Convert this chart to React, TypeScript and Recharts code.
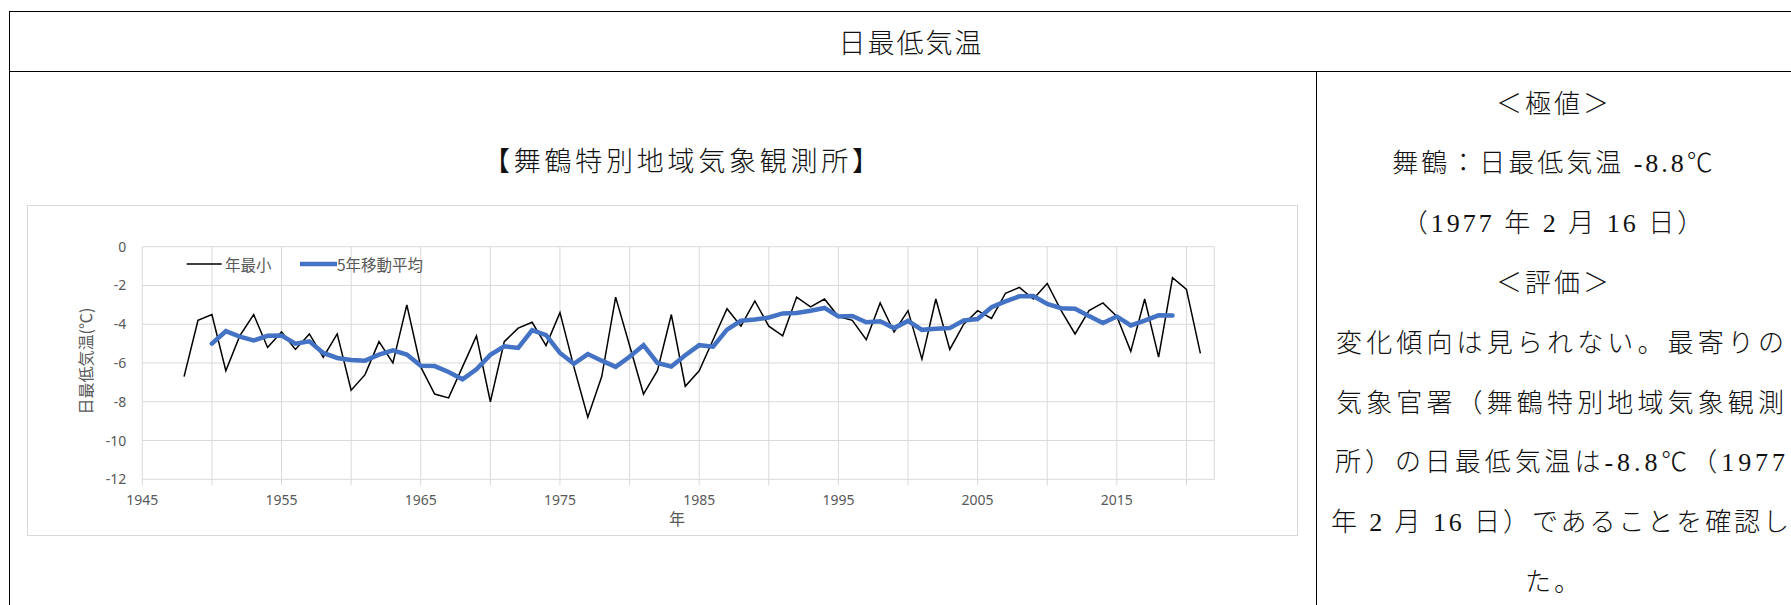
import React from 'react';
import { LineChart, Line, XAxis, YAxis, CartesianGrid } from 'recharts';

const years = [
  1948, 1949, 1950, 1951, 1952, 1953, 1954, 1955, 1956, 1957, 1958, 1959,
  1960, 1961, 1962, 1963, 1964, 1965, 1966, 1967, 1968, 1969,
  1970, 1971, 1972, 1973, 1974, 1975, 1976, 1977, 1978, 1979,
  1980, 1981, 1982, 1983, 1984, 1985, 1986, 1987, 1988, 1989,
  1990, 1991, 1992, 1993, 1994, 1995, 1996, 1997, 1998, 1999,
  2000, 2001, 2002, 2003, 2004, 2005, 2006, 2007, 2008, 2009,
  2010, 2011, 2012, 2013, 2014, 2015, 2016, 2017, 2018, 2019,
  2020, 2021,
];

const annualMin = [
  -6.7, -3.8, -3.5, -6.4, -4.6, -3.5, -5.2, -4.4, -5.3, -4.5, -5.7, -4.5,
  -7.4, -6.6, -4.9, -6.0, -3.0, -6.2, -7.6, -7.8, -6.2, -4.6,
  -8.0, -4.9, -4.2, -3.9, -5.1, -3.4, -6.2, -8.8, -6.7, -2.6,
  -5.1, -7.6, -6.4, -3.5, -7.2, -6.4, -4.8, -3.2, -4.1, -2.8,
  -4.1, -4.6, -2.6, -3.1, -2.7, -3.6, -3.8, -4.8, -2.9, -4.4,
  -3.3, -5.8, -2.7, -5.3, -4.0, -3.3, -3.7, -2.4, -2.1, -2.7,
  -1.9, -3.3, -4.5, -3.3, -2.9, -3.6, -5.4, -2.7, -5.7, -1.6,
  -2.2, -5.5,
];

const movingAvg5 = [
  null, null, -5.0, -4.36, -4.64, -4.84, -4.6, -4.58, -5.0, -4.88, -5.48, -5.74,
  -5.84, -5.88, -5.57, -5.35, -5.56, -6.14, -6.16, -6.46, -6.84, -6.32,
  -5.58, -5.14, -5.22, -4.3, -4.56, -5.48, -6.04, -5.54, -5.88, -6.2,
  -5.68, -5.08, -6.0, -6.18, -5.6, -5.08, -5.16, -4.28, -3.82, -3.76,
  -3.65, -3.44, -3.42, -3.3, -3.16, -3.6, -3.57, -3.9, -3.85, -4.2,
  -3.83, -4.29, -4.23, -4.2, -3.81, -3.73, -3.12, -2.82, -2.56, -2.55,
  -2.95, -3.17, -3.2, -3.58, -3.94, -3.6, -4.06, -3.81, -3.54, -3.55,
  null, null,
];

const xTicks = [1945, 1950, 1955, 1960, 1965, 1970, 1975, 1980, 1985, 1990, 1995, 2000, 2005, 2010, 2015, 2020];
const xLabeled = [1945, 1955, 1965, 1975, 1985, 1995, 2005, 2015];
const yTicks = [-12, -10, -8, -6, -4, -2, 0];

const seriesNames = ['年最小', '5年移動平均'];
const headerTitle = '日最低気温';
const chartTitle = '【舞鶴特別地域気象観測所】';
const xTitle = '年';
const yTitle = '日最低気温(℃)';
const noteLines = [
  '＜極値＞',
  '舞鶴：日最低気温 -8.8℃',
  '（1977 年 2 月 16 日）',
  '＜評価＞',
  '変化傾向は見られない。最寄りの',
  '気象官署（舞鶴特別地域気象観測',
  '所）の日最低気温は-8.8℃（1977',
  '年 2 月 16 日）であることを確認し',
  'た。',
];
const noteFitWidth = [0, 0, 0, 0, 448, 448, 450, 458, 0];

const data = years.map((y, i) => ({ year: y, min: annualMin[i], avg: movingAvg5[i] }));

const serif = "'Liberation Serif', 'Noto Sans CJK JP', serif";
const sans = "'Noto Sans', 'Noto Sans CJK JP', sans-serif";
const cjk = "'Noto Sans CJK JP', 'Noto Sans', sans-serif";

const BLUE = '#4472C4';
const GRID = '#d9d9d9';
const TXT = '#595959';

export default function App() {
  const abs = (s: React.CSSProperties): React.CSSProperties => ({ position: 'absolute', ...s });
  return (
    <div style={{ position: 'absolute', left: 0, top: 0, width: 1791, height: 605, background: '#fff', overflow: 'hidden' }}>
      {/* table borders */}
      <div style={abs({ left: 9, top: 10.5, width: 1800, height: 0, borderTop: '1.5px solid #000' })} />
      <div style={abs({ left: 9, top: 70.5, width: 1800, height: 0, borderTop: '1.5px solid #000' })} />
      <div style={abs({ left: 9, top: 10.5, width: 0, height: 600, borderLeft: '1.5px solid #000' })} />
      <div style={abs({ left: 1315.5, top: 70.5, width: 0, height: 600, borderLeft: '1.5px solid #000' })} />

      {/* header */}
      <svg style={abs({ left: 0, top: 11 })} width={1791} height={60}>
        <text x={910} y={32.5} textAnchor="middle" dominantBaseline="central" fontFamily={serif} fontSize={27} fontWeight={300} fill="#111" textLength={143} lengthAdjust="spacing">
          {headerTitle}
        </text>
      </svg>

      {/* chart title */}
      <svg style={abs({ left: 0, top: 140 })} width={1315} height={44}>
        <text x={681} y={22} textAnchor="middle" dominantBaseline="central" fontFamily={serif} fontSize={27} fontWeight={300} fill="#111" textLength={396} lengthAdjust="spacing">
          {chartTitle}
        </text>
      </svg>

      {/* chart frame */}
      <div style={abs({ left: 27, top: 205, width: 1271, height: 331, border: `1px solid ${GRID}`, boxSizing: 'border-box' })} />

      <div style={abs({ left: 27, top: 205 })}>
        <LineChart width={1271} height={331} data={data} margin={{ top: 41.7, right: 83.7, left: 0, bottom: 0 }}>
          <CartesianGrid stroke={GRID} strokeWidth={1} />
          <XAxis
            type="number"
            dataKey="year"
            domain={[1945, 2022]}
            ticks={xTicks}
            interval={0}
            allowDataOverflow
            axisLine={false}
            tickLine={{ stroke: GRID }}
            tickSize={6}
            tickMargin={10}
            height={56.7}
            tick={{ fill: TXT, fontSize: 14, fontFamily: sans }}
            tickFormatter={(v: number) => (xLabeled.includes(v) ? String(v) : '')}
          />
          <YAxis
            type="number"
            domain={[-12, 0]}
            ticks={yTicks}
            interval={0}
            width={115.3}
            axisLine={false}
            tickLine={false}
            tickSize={6}
            tickMargin={10}
            tick={{ fill: TXT, fontSize: 14, fontFamily: sans }}
          />
          <Line type="linear" dataKey="min" name={seriesNames[0]} stroke="#000" strokeWidth={1.5} dot={false} isAnimationActive={false} />
          <Line type="linear" dataKey="avg" name={seriesNames[1]} stroke={BLUE} strokeWidth={4.5} strokeLinecap="round" dot={false} connectNulls={false} isAnimationActive={false} />
        </LineChart>
      </div>

      {/* legend */}
      <svg style={abs({ left: 180, top: 252 })} width={44} height={24}>
        <line x1={6.7} y1={12} x2={41.7} y2={12} stroke="#000" strokeWidth={1.5} />
      </svg>
      <div style={abs({ left: 225, top: 252, height: 24, lineHeight: '24px', fontFamily: cjk, fontSize: 15.5, color: TXT, whiteSpace: 'nowrap' })}>
        {seriesNames[0]}
      </div>
      <svg style={abs({ left: 296, top: 252 })} width={44} height={24}>
        <line x1={4} y1={12} x2={41} y2={12} stroke={BLUE} strokeWidth={4.5} />
      </svg>
      <div style={abs({ left: 337, top: 252, height: 24, lineHeight: '24px', fontFamily: cjk, fontSize: 15.5, color: TXT, whiteSpace: 'nowrap' })}>
        {seriesNames[1]}
      </div>

      {/* axis titles */}
      <div style={abs({ left: 85 - 80, top: 361 - 12, width: 160, height: 24, lineHeight: '24px', textAlign: 'center', transform: 'rotate(-90deg)', fontFamily: cjk, fontSize: 16, color: TXT, whiteSpace: 'nowrap' })}>
        {yTitle}
      </div>
      <div style={abs({ left: 677 - 20, top: 518 - 12, width: 40, height: 24, lineHeight: '24px', textAlign: 'center', fontFamily: cjk, fontSize: 16, color: TXT })}>
        {xTitle}
      </div>

      {/* notes */}
      <svg style={abs({ left: 1317, top: 72 })} width={474} height={533}>
        {noteLines.map((t, i) => {
          const fit = noteFitWidth[i];
          const cx = fit ? 1560 - 1317 : 1554 - 1317;
          return (
            <text
              key={i}
              x={cx}
              y={104 + i * 59.8 - 72}
              textAnchor="middle"
              dominantBaseline="central"
              fontFamily={serif}
              fontSize={26}
              fontWeight={300}
              fill="#111"
              letterSpacing={fit ? undefined : 3}
              textLength={fit || undefined}
              lengthAdjust={fit ? 'spacing' : undefined}
            >
              {t}
            </text>
          );
        })}
      </svg>
    </div>
  );
}
